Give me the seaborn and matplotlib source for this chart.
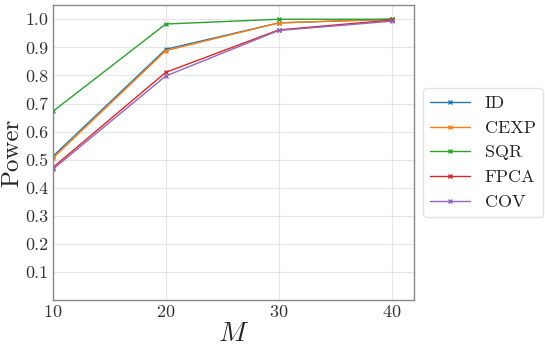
import numpy as np
import pandas as pd
import matplotlib
matplotlib.use("Agg")
import matplotlib.pyplot as plt
import seaborn as sns

# data
m_values = [10, 20, 30, 40]
power_id = [0.512, 0.893, 0.987, 1.0]
power_cexp = [0.505, 0.888, 0.987, 1.0]
power_sqr = [0.672, 0.983, 1.0, 1.0]
power_fpca = [0.472, 0.811, 0.962, 0.997]
power_cov = [0.466, 0.798, 0.960, 0.993]
methods = ["ID", "CEXP", "SQR", "FPCA", "COV"]

df = pd.DataFrame({
    "M": m_values * 5,
    "Power": power_id + power_cexp + power_sqr + power_fpca + power_cov,
    "method": [m for m in methods for _ in m_values],
})

sns.set_style("whitegrid")
plt.rcParams["font.family"] = ["cmr10", "DejaVu Serif"]
plt.rcParams["mathtext.fontset"] = "cm"
plt.rcParams["axes.formatter.use_mathtext"] = True

fig, ax = plt.subplots(figsize=(5.45, 3.47), dpi=100)
sns.lineplot(data=df, x="M", y="Power", hue="method", hue_order=methods,
             palette="tab10", marker="x", markersize=3, markeredgewidth=1,
             linewidth=1, ax=ax)
# seaborn paints marker edges white; give them the line colour
for ln in ax.lines:
    ln.set_markeredgecolor(ln.get_color())

ax.set_xlim(10, 42)
ax.set_ylim(0, 1.05)
ax.set_xticks([10, 20, 30, 40])
ax.set_yticks([0.1, 0.2, 0.3, 0.4, 0.5, 0.6, 0.7, 0.8, 0.9, 1.0])
ax.set_yticklabels(["0.1", "0.2", "0.3", "0.4", "0.5", "0.6", "0.7", "0.8", "0.9", "1.0"])
ax.tick_params(labelsize=13, colors="#333333", length=0, pad=3)
ax.set_xlabel("$M$", fontsize=20, labelpad=0)
ax.set_ylabel("Power", fontsize=18, labelpad=2)
ax.grid(color="#e5e5e5", linewidth=0.8)
for s in ax.spines.values():
    s.set_color("#888888")
    s.set_linewidth(1)

leg = ax.legend(loc="center left", bbox_to_anchor=(1.0, 0.5), fontsize=13,
                frameon=True, handlelength=2.2)
leg.get_frame().set_edgecolor("#dddddd")
for h in leg.legend_handles:
    h.set_markeredgecolor(h.get_color())

fig.subplots_adjust(left=0.097, right=0.76, top=0.985, bottom=0.135)
fig.savefig("out.png", dpi=100)
